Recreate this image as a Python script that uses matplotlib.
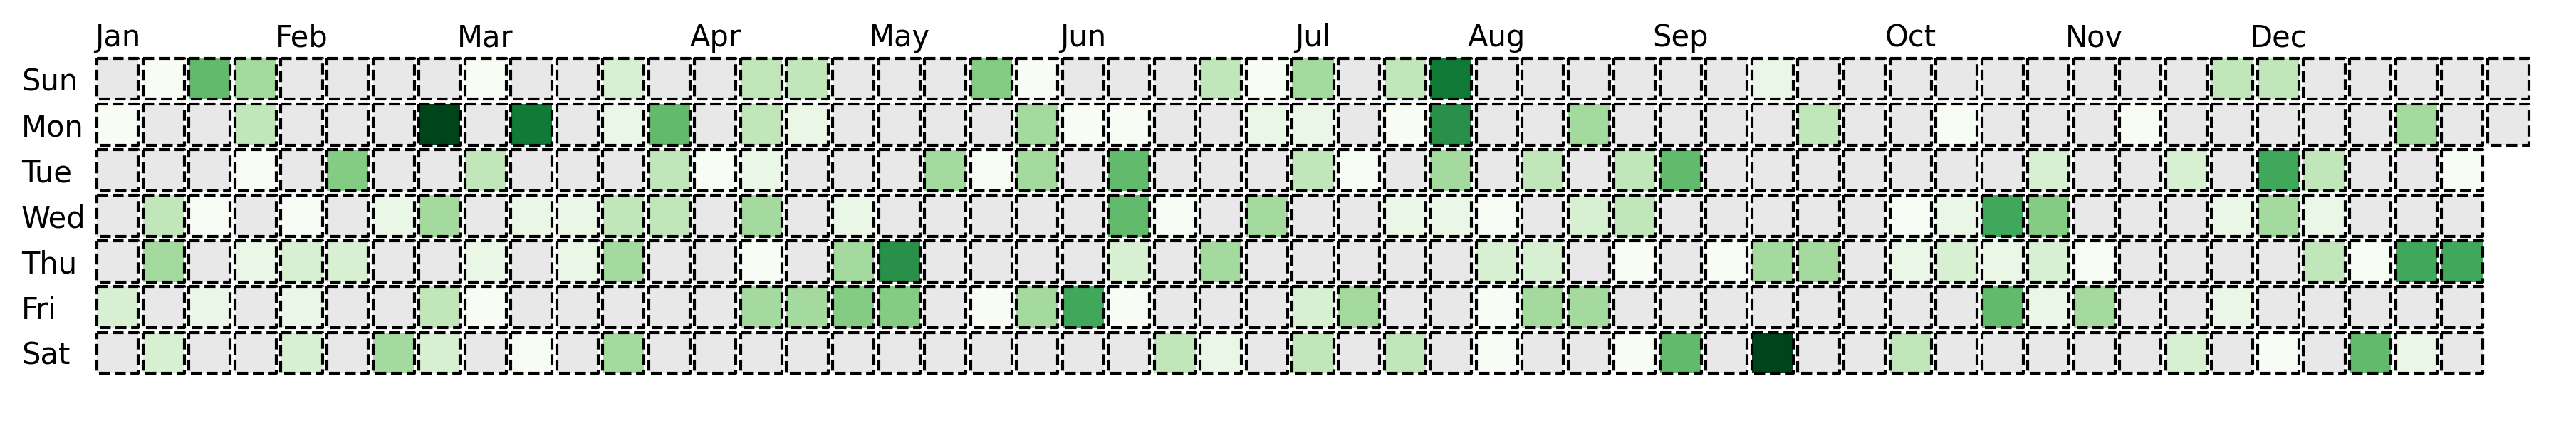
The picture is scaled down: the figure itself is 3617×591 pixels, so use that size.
import matplotlib
matplotlib.use('Agg')
import matplotlib.pyplot as plt
import numpy as np
import pandas as pd
from matplotlib.patches import Rectangle
from matplotlib.collections import PatchCollection
from matplotlib.colors import Normalize

# calendar year (starts on a Sunday, leap year -> Sun/Mon get 53 weeks)
year = 2012
day_labels = ['Sun', 'Mon', 'Tue', 'Wed', 'Thu', 'Fri', 'Sat']
month_labels = ['Jan', 'Feb', 'Mar', 'Apr', 'May', 'Jun',
                'Jul', 'Aug', 'Sep', 'Oct', 'Nov', 'Dec']

# activity level per week column, one list per weekday (0 = no activity)
sun = [0, 1, 7, 5, 0, 0, 0, 0, 1, 0, 0, 3, 0, 0, 4, 4, 0, 0, 0, 6, 1, 0, 0, 0, 4, 1, 5,
       0, 4, 10, 0, 0, 0, 0, 0, 0, 2, 0, 0, 0, 0, 0, 0, 0, 0, 0, 4, 4, 0, 0, 0, 0, 0]
mon = [1, 0, 0, 4, 0, 0, 0, 12, 0, 10, 0, 2, 7, 0, 4, 2, 0, 0, 0, 0, 5, 1, 1, 0, 0, 2, 2,
       0, 1, 9, 0, 0, 5, 0, 0, 0, 0, 4, 0, 0, 1, 0, 0, 0, 1, 0, 0, 0, 0, 0, 5, 0, 0]
tue = [0, 0, 0, 1, 0, 6, 0, 0, 4, 0, 0, 0, 4, 1, 2, 0, 0, 0, 5, 1, 5, 0, 7, 0, 0, 0,
       4, 1, 0, 5, 0, 4, 0, 4, 7, 0, 0, 0, 0, 0, 0, 0, 3, 0, 0, 3, 0, 8, 4, 0, 0, 1]
wed = [0, 4, 1, 0, 1, 0, 2, 5, 0, 2, 2, 4, 4, 0, 5, 0, 2, 0, 0, 0, 0, 0, 7, 1, 0, 5,
       0, 0, 2, 2, 1, 0, 3, 4, 0, 0, 0, 0, 0, 1, 2, 8, 6, 0, 0, 0, 2, 5, 2, 0, 0, 0]
thu = [0, 5, 0, 2, 3, 3, 0, 0, 2, 0, 2, 5, 0, 0, 1, 0, 5, 9, 0, 0, 0, 0, 3, 0, 5, 0,
       0, 0, 0, 0, 3, 3, 0, 1, 0, 1, 5, 5, 0, 2, 3, 2, 3, 1, 0, 0, 0, 0, 4, 1, 8, 8]
fri = [3, 0, 2, 0, 2, 0, 0, 4, 1, 0, 0, 0, 0, 0, 5, 5, 6, 6, 0, 1, 5, 8, 1, 0, 0, 0,
       3, 5, 0, 0, 1, 5, 5, 0, 0, 0, 0, 0, 0, 0, 0, 7, 2, 5, 0, 0, 2, 0, 0, 0, 0, 0]
sat = [0, 3, 0, 0, 3, 0, 5, 3, 0, 1, 0, 5, 0, 0, 0, 0, 0, 0, 0, 0, 0, 0, 0, 4, 2, 0,
       4, 0, 4, 0, 1, 0, 0, 1, 7, 0, 12, 0, 0, 4, 0, 0, 0, 0, 0, 3, 0, 1, 0, 7, 2, 0]

rows = [sun, mon, tue, wed, thu, fri, sat]
n_weeks = max(len(r) for r in rows)

# week column of the first day of each month
offset = (pd.Timestamp(year, 1, 1).dayofweek + 1) % 7
month_cols = [(pd.Timestamp(year, m, 1).dayofyear - 1 + offset) // 7 for m in range(1, 13)]

fig = plt.figure(figsize=(3617 / 300, 591 / 300), dpi=300)
ax = fig.add_axes([133 / 3617, 63.5 / 591, 3421 / 3617, 449 / 591])

cmap = plt.get_cmap('Greens').copy()
cmap.set_under('#e8e8e8')

size = 0.9
cells, vals = [], []
for r, row in enumerate(rows):
    for c, v in enumerate(row):
        cells.append(Rectangle((c + (1 - size) / 2, r + (1 - size) / 2), size, size))
        vals.append(v)

pc = PatchCollection(cells, cmap=cmap, norm=Normalize(vmin=1, vmax=12),
                     edgecolor='black', linewidth=1.0, linestyle='--')
pc.set_array(np.array(vals, dtype=float))
ax.add_collection(pc)

ax.set_xlim(0, n_weeks)
ax.set_ylim(7, 0)
for s in ax.spines.values():
    s.set_visible(False)

ax.xaxis.tick_top()
ax.set_xticks(np.array(month_cols) + 0.5)
ax.set_xticklabels(month_labels, fontsize=10)
ax.tick_params(axis='x', length=0, pad=1)

ax.set_yticks(np.arange(7) + 0.5)
ax.set_yticklabels(day_labels, fontsize=10, ha='left')
ax.tick_params(axis='y', length=0, pad=24.7)

fig.savefig('out.png', dpi=300)
